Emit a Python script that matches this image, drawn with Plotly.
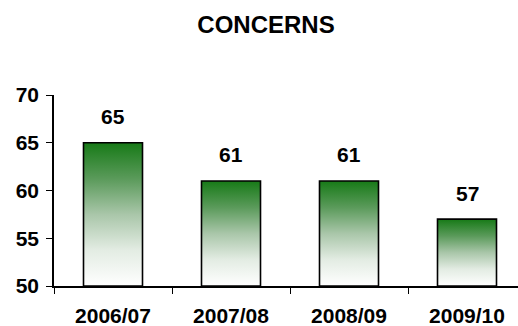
import plotly.graph_objects as go
import urllib.parse

categories = ["2006/07", "2007/08", "2008/09", "2009/10"]
values = [65, 61, 61, 57]
y_ticks = [50, 55, 60, 65, 70]
title_text = "CONCERNS"

FONT = "Liberation Sans, Arial, sans-serif"
BASE = 50

svg = ('<svg xmlns="http://www.w3.org/2000/svg" width="10" height="100" preserveAspectRatio="none">'
       '<defs><linearGradient id="g" x1="0" y1="0" x2="0" y2="1">'
       '<stop offset="0" stop-color="#177a17"/>'
       '<stop offset="0.25" stop-color="#5a9a5a"/>'
       '<stop offset="0.5" stop-color="#a9c6a9"/>'
       '<stop offset="0.75" stop-color="#e3ece3"/>'
       '<stop offset="1" stop-color="#ffffff"/>'
       '</linearGradient></defs>'
       '<rect x="0" y="0" width="10" height="100" fill="url(#g)"/></svg>')
src = "data:image/svg+xml;charset=utf-8," + urllib.parse.quote(svg)

fig = go.Figure()
fig.add_trace(go.Bar(
    x=categories,
    y=[v - BASE for v in values],
    base=BASE,
    width=0.5,
    marker=dict(color="rgba(0,0,0,0)", line=dict(color="black", width=1.6)),
    hoverinfo="skip",
))

images = []
annotations = []
for i, (c, v) in enumerate(zip(categories, values)):
    images.append(dict(
        source=src, xref="x", yref="y", x=i, y=v, sizex=0.5, sizey=v - BASE,
        xanchor="center", yanchor="top", sizing="stretch", layer="below",
    ))
    annotations.append(dict(
        x=c, y=v, xref="x", yref="y", text=f"<b>{v}</b>", showarrow=False,
        yanchor="middle", yshift=26, font=dict(family=FONT, size=21, color="black"),
    ))

fig.update_layout(
    width=518, height=326,
    margin=dict(l=54, r=0, t=95, b=40),
    paper_bgcolor="white", plot_bgcolor="rgba(0,0,0,0)",
    showlegend=False,
    images=images,
    annotations=annotations,
    title=dict(text=f"<b>{title_text}</b>", x=266 / 518, xanchor="center",
               xref="container", y=1 - 25 / 326, yref="container", yanchor="middle",
               font=dict(family=FONT, size=24, color="black")),
    bargap=0.5,
)
fig.update_xaxes(
    type="category", range=[-0.5, 3.5 - 8 / 118],
    showline=True, linecolor="black", linewidth=1.6,
    ticks="outside", tickson="boundaries", ticklen=6, tickcolor="black", tickwidth=1.3,
    tickfont=dict(family=FONT, size=21, color="black"),
    tickprefix="<b>", ticksuffix="</b>", ticklabelstandoff=10,
    showgrid=False, zeroline=False, fixedrange=True,
)
fig.update_yaxes(
    range=[50, 70], tickvals=y_ticks, ticktext=[f"<b>{t}</b>" for t in y_ticks],
    showline=True, linecolor="black", linewidth=1.6,
    ticks="outside", ticklen=6, tickcolor="black", tickwidth=1.3,
    tickfont=dict(family=FONT, size=21, color="black"), ticklabelstandoff=3,
    showgrid=False, zeroline=False, fixedrange=True,
)

fig.write_html("out.html")
